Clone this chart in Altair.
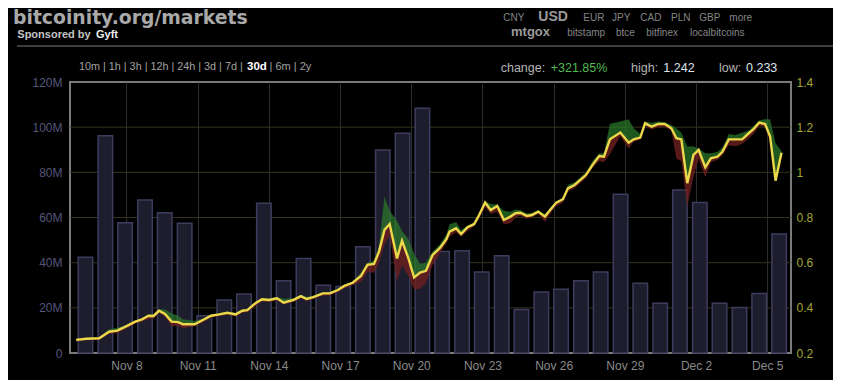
import altair as alt
import pandas as pd

# ---------------- data ----------------
# x positions are days counted from Nov 0 (Nov 8 = 8, Dec 5 = 35)
bar_day = [6.27, 7.11, 7.94, 8.78, 9.61, 10.45, 11.28, 12.12, 12.95, 13.79,
           14.62, 15.46, 16.29, 17.13, 17.96, 18.80, 19.63, 20.47, 21.30, 22.14,
           22.97, 23.81, 24.64, 25.48, 26.31, 27.15, 27.98, 28.82, 29.65, 30.49,
           31.32, 32.16, 32.99, 33.83, 34.66, 35.50]
bar_volume_m = [42.4, 96.2, 57.7, 67.7, 62.1, 57.4, 16.5, 23.5, 26.1, 66.3,
                32.0, 41.8, 30.0, 29.4, 47.1, 89.9, 97.3, 108.4, 44.9, 45.3,
                35.9, 43.1, 19.3, 27.0, 28.2, 32.0, 35.9, 70.3, 30.9, 22.0,
                72.2, 66.6, 22.0, 20.1, 26.4, 52.7]

price_day = [5.88, 6.30, 6.85, 7.27, 7.61, 7.96, 8.37, 8.65, 8.93, 9.14,
             9.37, 9.62, 9.90, 10.18, 10.38, 10.87, 11.22, 11.56, 11.91, 12.25,
             12.60, 12.88, 13.09, 13.43, 13.71, 14.00, 14.34, 14.62, 15.04, 15.35,
             15.59, 15.87, 16.28, 16.56, 16.91, 17.18, 17.53, 17.88, 18.15, 18.43,
             18.64, 18.87, 19.09, 19.40, 19.61, 19.88, 20.12, 20.37, 20.62, 20.90,
             21.20, 21.48, 21.61, 21.89, 22.10, 22.37, 22.65, 22.86, 23.11, 23.35,
             23.62, 23.90, 24.18, 24.39, 24.59, 24.87, 25.08, 25.35, 25.63, 25.91,
             26.11, 26.39, 26.60, 26.88, 27.15, 27.36, 27.64, 27.92, 28.12, 28.37,
             28.81, 29.16, 29.37, 29.65, 29.85, 30.13, 30.41, 30.68, 30.96, 31.17,
             31.38, 31.63, 31.89, 32.11, 32.39, 32.62, 32.90, 33.11, 33.38, 33.66,
             33.94, 34.22, 34.42, 34.66, 34.91, 35.12, 35.35, 35.60]
price = [0.258, 0.263, 0.265, 0.294, 0.299, 0.317, 0.339, 0.349, 0.365, 0.364,
         0.387, 0.373, 0.339, 0.337, 0.327, 0.327, 0.346, 0.365, 0.371, 0.378,
         0.371, 0.387, 0.390, 0.420, 0.438, 0.435, 0.442, 0.423, 0.435, 0.452,
         0.439, 0.447, 0.464, 0.464, 0.479, 0.497, 0.511, 0.541, 0.590, 0.594,
         0.649, 0.745, 0.771, 0.619, 0.697, 0.619, 0.535, 0.556, 0.564, 0.634,
         0.664, 0.704, 0.737, 0.752, 0.727, 0.757, 0.771, 0.811, 0.866, 0.833,
         0.851, 0.789, 0.804, 0.819, 0.821, 0.807, 0.811, 0.826, 0.804, 0.841,
         0.866, 0.881, 0.929, 0.944, 0.969, 0.988, 1.033, 1.072, 1.069, 1.146,
         1.176, 1.131, 1.146, 1.154, 1.217, 1.202, 1.214, 1.214, 1.195, 1.151,
         1.146, 0.952, 1.077, 1.099, 1.022, 1.062, 1.069, 1.091, 1.146, 1.146,
         1.146, 1.173, 1.191, 1.220, 1.214, 1.158, 0.963, 1.087]
price_high = [0.263, 0.268, 0.270, 0.305, 0.312, 0.322, 0.344, 0.354, 0.370, 0.372,
              0.395, 0.393, 0.375, 0.365, 0.350, 0.342, 0.352, 0.370, 0.376, 0.383,
              0.378, 0.392, 0.396, 0.426, 0.444, 0.441, 0.448, 0.440, 0.442, 0.458,
              0.448, 0.453, 0.470, 0.470, 0.485, 0.503, 0.517, 0.555, 0.600, 0.610,
              0.672, 0.892, 0.830, 0.785, 0.740, 0.705, 0.640, 0.595, 0.600, 0.650,
              0.680, 0.725, 0.770, 0.780, 0.745, 0.765, 0.778, 0.818, 0.872, 0.860,
              0.858, 0.830, 0.825, 0.835, 0.833, 0.818, 0.820, 0.832, 0.815, 0.848,
              0.872, 0.888, 0.945, 0.955, 0.980, 1.000, 1.050, 1.085, 1.085, 1.215,
              1.225, 1.235, 1.195, 1.170, 1.225, 1.220, 1.225, 1.222, 1.210, 1.195,
              1.175, 1.114, 1.114, 1.105, 1.084, 1.085, 1.090, 1.110, 1.170, 1.165,
              1.175, 1.185, 1.205, 1.230, 1.235, 1.235, 1.129, 1.095]
price_low = [0.250, 0.257, 0.258, 0.285, 0.288, 0.306, 0.330, 0.340, 0.350, 0.352,
             0.378, 0.362, 0.318, 0.320, 0.310, 0.318, 0.335, 0.356, 0.364, 0.370,
             0.362, 0.378, 0.380, 0.408, 0.428, 0.425, 0.432, 0.416, 0.426, 0.442,
             0.430, 0.438, 0.455, 0.455, 0.470, 0.486, 0.500, 0.515, 0.560, 0.555,
             0.600, 0.680, 0.720, 0.516, 0.590, 0.540, 0.480, 0.485, 0.510, 0.590,
             0.640, 0.685, 0.715, 0.735, 0.715, 0.740, 0.760, 0.795, 0.845, 0.815,
             0.825, 0.770, 0.775, 0.800, 0.808, 0.795, 0.800, 0.815, 0.780, 0.825,
             0.850, 0.865, 0.915, 0.930, 0.955, 0.975, 1.020, 1.050, 1.045, 1.080,
             1.160, 1.106, 1.135, 1.145, 1.205, 1.190, 1.200, 1.200, 1.185, 1.060,
             1.050, 0.848, 0.980, 1.060, 0.978, 1.045, 1.055, 1.075, 1.120, 1.115,
             1.125, 1.150, 1.170, 1.205, 1.200, 1.140, 0.960, 1.085]

x_tick_values = [8, 11, 14, 17, 20, 23, 26, 29, 32, 35]
x_tick_labels = ["Nov 8", "Nov 11", "Nov 14", "Nov 17", "Nov 20", "Nov 23",
                 "Nov 26", "Nov 29", "Dec 2", "Dec 5"]
vol_tick_values = [0, 20000000, 40000000, 60000000, 80000000, 100000000, 120000000]
vol_tick_labels = ["0", "20M", "40M", "60M", "80M", "100M", "120M"]
vol_grid_values = [20000000, 40000000, 60000000, 80000000, 100000000]
price_tick_values = [0.2, 0.4, 0.6, 0.8, 1.0, 1.2, 1.4]
price_tick_labels = ["0.2", "0.4", "0.6", "0.8", "1", "1.2", "1.4"]

bar_df = pd.DataFrame({"day": bar_day, "volume": [v * 1e6 for v in bar_volume_m]})
price_df = pd.DataFrame({"day": price_day, "price": price,
                         "high": price_high, "low": price_low})
grid_df = pd.DataFrame({"v": vol_grid_values})


def label_expr(values, labels):
    expr = "''"
    for v, l in reversed(list(zip(values, labels))):
        expr = f"datum.value == {v} ? '{l}' : ({expr})"
    return expr


FONT = "Liberation Sans"
PLOT_W, PLOT_H = 721, 271
ORIGIN_X, ORIGIN_Y = 70, 82  # page position of the plot area in the reference

x_enc = alt.X(
    "day:Q",
    scale=alt.Scale(domain=[5.83, 35.79], nice=False, zero=False),
    axis=alt.Axis(values=x_tick_values, labelExpr=label_expr(x_tick_values, x_tick_labels),
                  grid=True, gridColor="#2c2c2c", gridWidth=1, ticks=False, domain=False,
                  labelColor="#8a8a8a", labelFont=FONT, labelFontSize=12,
                  labelPadding=7, title=None, labelFlush=False),
)

vol_scale = alt.Scale(domain=[0, 120000000], nice=False, zero=True)
left_axis = alt.Axis(values=vol_tick_values, labelExpr=label_expr(vol_tick_values, vol_tick_labels),
                     grid=False, ticks=False, domain=False, orient="left",
                     labelColor="#56567c", labelFont=FONT, labelFontSize=12,
                     labelPadding=8, title=None)

price_scale = alt.Scale(domain=[0.2, 1.4], nice=False, zero=False)
right_axis = alt.Axis(values=price_tick_values,
                      labelExpr=label_expr(price_tick_values, price_tick_labels),
                      grid=False, ticks=False, domain=False, orient="right",
                      labelColor="#a5a534", labelFont=FONT, labelFontSize=12,
                      labelPadding=5, title=None)

grid_rules = alt.Chart(grid_df).mark_rule(color="#34341c", strokeWidth=1).encode(
    y=alt.Y("v:Q", scale=vol_scale, axis=left_axis)
)
bars = alt.Chart(bar_df).mark_bar(size=14.5, fill="#1d1d2e", stroke="#3c3c5e",
                                  strokeWidth=1.5).encode(
    x=x_enc,
    y=alt.Y("volume:Q", scale=vol_scale, axis=left_axis),
)
volume_layer = alt.layer(grid_rules, bars)

green = alt.Chart(price_df).mark_area(fill="#2b7a2b", opacity=0.72).encode(
    x=x_enc,
    y=alt.Y("high:Q", scale=price_scale, axis=right_axis),
    y2="price:Q",
)
red = alt.Chart(price_df).mark_area(fill="#6e1f1f", opacity=0.8).encode(
    x=x_enc,
    y=alt.Y("price:Q", scale=price_scale, axis=right_axis),
    y2="low:Q",
)
line = alt.Chart(price_df).mark_line(color="#ecd84a", strokeWidth=2.4).encode(
    x=x_enc,
    y=alt.Y("price:Q", scale=price_scale, axis=right_axis),
)
price_layer = alt.layer(green, red, line)


# ---------------- page header texts ----------------
def txt(px, py, s, size, color, bold=False, font=FONT):
    return alt.Chart(alt.Data(values=[{}])).mark_text(
        text=s, align="left", baseline="alphabetic", font=font, fontSize=size,
        fontWeight="bold" if bold else "normal", color=color,
    ).encode(x=alt.value(px - ORIGIN_X), y=alt.value(py - ORIGIN_Y))


LINK = "#858585"
headers = [
    txt(13, 24, "bitcoinity.org/markets", 18.8, "#a9a9a9", True, "DejaVu Sans"),
    txt(17.3, 38, "Sponsored by", 11, "#c4c4c4", True),
    txt(96, 38, "Gyft", 11, "#eeeeee", True),
    # currency row
    txt(503.3, 21, "CNY", 10, LINK),
    txt(538.3, 21, "USD", 14, "#9a9a9a", True),
    txt(583.3, 21, "EUR", 10, LINK),
    txt(612, 21, "JPY", 10, LINK),
    txt(640.3, 21, "CAD", 10, LINK),
    txt(671, 21, "PLN", 10, LINK),
    txt(699.3, 21, "GBP", 10, LINK),
    txt(729.3, 21, "more", 10, LINK),
    # exchange row
    txt(511, 36, "mtgox", 13, "#9a9a9a", True),
    txt(567.3, 36, "bitstamp", 10, LINK),
    txt(616, 36, "btce", 10, LINK),
    txt(646.3, 36, "bitfinex", 10, LINK),
    txt(690, 36, "localbitcoins", 10, LINK),
    # range selector
    txt(79, 70, "10m | 1h | 3h | 12h | 24h | 3d | 7d |", 10.8, "#a0a0a0"),
    txt(247, 70, "30d", 11.5, "#ffffff", True),
    txt(269.5, 70, "| 6m | 2y", 11, "#a0a0a0"),
    # stats
    txt(500.7, 72, "change:", 12.5, "#b5b5b5"),
    txt(550.7, 72, "+321.85%", 12.5, "#52b852"),
    txt(631, 72, "high:", 12.5, "#b5b5b5"),
    txt(663.3, 72, "1.242", 12.5, "#dde4ee"),
    txt(719, 72, "low:", 12.5, "#b5b5b5"),
    txt(746, 72, "0.233", 12.5, "#dde4ee"),
]
divider = alt.Chart(alt.Data(values=[{}])).mark_rule(color="#3d3d3d", strokeWidth=2).encode(
    x=alt.value(17 - ORIGIN_X), x2=alt.value(841 - ORIGIN_X), y=alt.value(46 - ORIGIN_Y)
)

chart = (
    alt.layer(volume_layer, price_layer, divider, *headers)
    .resolve_scale(y="independent")
    .properties(
        width=PLOT_W,
        height=PLOT_H,
        padding={"left": 62, "top": 74, "right": 42, "bottom": 27},
        autosize=alt.AutoSizeParams(type="none"),
        background="#000000",
    )
    .configure_view(stroke="#7a7a7a", strokeWidth=2)
)

chart.save("out.html", embed_options={"renderer": "svg", "actions": False})
